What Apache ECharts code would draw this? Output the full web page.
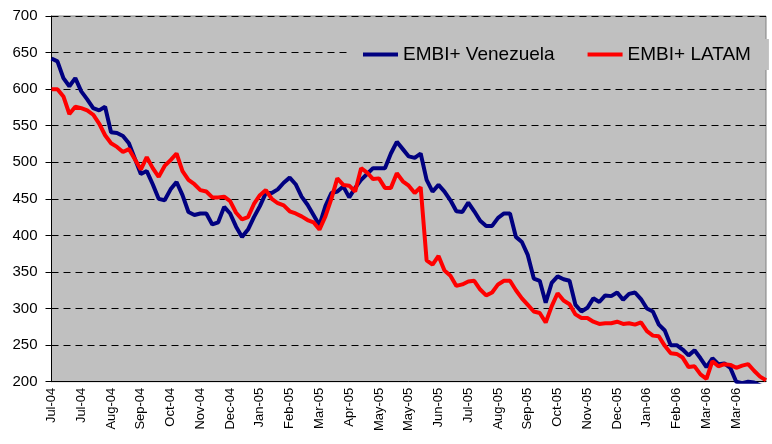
<!DOCTYPE html>
<html>
<head>
<meta charset="utf-8">
<script src="https://cdn.jsdelivr.net/npm/echarts@6/dist/echarts.min.js"></script>
<style>
html,body{margin:0;padding:0;background:#fff;}
#c{width:772px;height:444px;}
</style>
</head>
<body>
<div id="c"></div>
<script>
const tickLabels = ['Jul-04','Jul-04','Aug-04','Sep-04','Oct-04','Nov-04','Dec-04','Jan-05','Feb-05','Mar-05','Apr-05','May-05','May-05','Jun-05','Jul-05','Aug-05','Sep-05','Oct-05','Nov-05','Dec-05','Jan-06','Feb-06','Mar-06','Mar-06'];
const pointsPerTick = 5;

const venezuela = [642,638,615,604,615,597,586,574,571,576,
541,540,536,526,505,484,488,470,450,448,
463,473,455,432,428,430,430,415,418,439,
430,412,398,408,425,440,458,458,463,472,
479,470,453,442,428,414,440,458,460,467,
452,465,476,484,492,492,492,512,528,518,
508,506,512,476,460,469,460,448,433,432,
445,433,420,413,413,424,430,430,398,391,
373,341,338,308,335,344,340,338,305,296,
301,314,309,318,317,322,312,320,322,313,
300,296,278,270,250,250,244,236,243,232,
220,232,224,225,219,200,198,200,199,195,
193];

const latam = [600,600,590,566,576,574,571,565,553,537,
526,521,514,518,504,490,507,492,480,495,
503,512,488,476,470,462,460,452,452,453,
447,431,422,425,443,455,462,450,444,441,
433,430,426,421,418,408,426,450,478,469,
468,460,492,486,477,478,465,465,485,474,
468,458,466,366,360,372,352,345,331,333,
337,338,326,318,322,333,338,338,325,314,
305,296,294,281,303,321,311,306,292,287,
287,282,279,280,280,282,279,280,278,281,
269,263,262,249,239,238,233,220,221,210,
204,228,221,224,223,219,222,224,215,207,
202];

const seriesNames = ['EMBI+ Venezuela', 'EMBI+ LATAM'];

const categories = venezuela.map((_, i) =>
  (i % pointsPerTick === 0 && tickLabels[i / pointsPerTick]) ? tickLabels[i / pointsPerTick] : '');

const FONT = 'Arial, "Liberation Sans", sans-serif';
const chart = echarts.init(document.getElementById('c'), null, {renderer: 'canvas'});
chart.setOption({
  animation: false,
  backgroundColor: '#ffffff',
  grid: {
    left: 51.5, right: 6, top: 16, bottom: 62.3,
    show: true, backgroundColor: '#C0C0C0', borderColor: '#808080', borderWidth: 1,
    containLabel: false, outerBoundsMode: 'none'
  },
  legend: {
    left: 347, top: 39,
    padding: [6, 18, 6, 16],
    backgroundColor: '#C0C0C0',
    itemWidth: 35, itemHeight: 4, itemGap: 33,
    icon: 'rect',
    textStyle: {fontFamily: FONT, fontSize: 19, color: '#000'},
    data: seriesNames
  },
  xAxis: {
    type: 'category',
    data: categories,
    boundaryGap: false,
    axisLine: {show: true, lineStyle: {color: '#000', width: 1}},
    axisTick: {show: false},
    axisLabel: {
      interval: pointsPerTick - 1, rotate: 90, margin: 6,
      fontFamily: FONT, fontSize: 13, color: '#000',
      hideOverlap: false
    },
    splitLine: {show: false}
  },
  yAxis: {
    type: 'value',
    min: 200, max: 700, interval: 50,
    axisLine: {show: true, lineStyle: {color: '#000', width: 1}},
    axisTick: {show: true, inside: false, length: 6, lineStyle: {color: '#000'}},
    axisLabel: {margin: 14, fontFamily: FONT, fontSize: 15, color: '#000'},
    splitLine: {show: true, lineStyle: {color: '#000', width: 1, type: [7, 5]}}
  },
  series: [
    {
      name: seriesNames[0], type: 'line', data: venezuela,
      symbol: 'none', smooth: false, clip: true,
      lineStyle: {color: '#000080', width: 4},
      itemStyle: {color: '#000080'}
    },
    {
      name: seriesNames[1], type: 'line', data: latam,
      symbol: 'none', smooth: false, clip: true,
      lineStyle: {color: '#FF0000', width: 4},
      itemStyle: {color: '#FF0000'}
    }
  ]
});
</script>
</body>
</html>
